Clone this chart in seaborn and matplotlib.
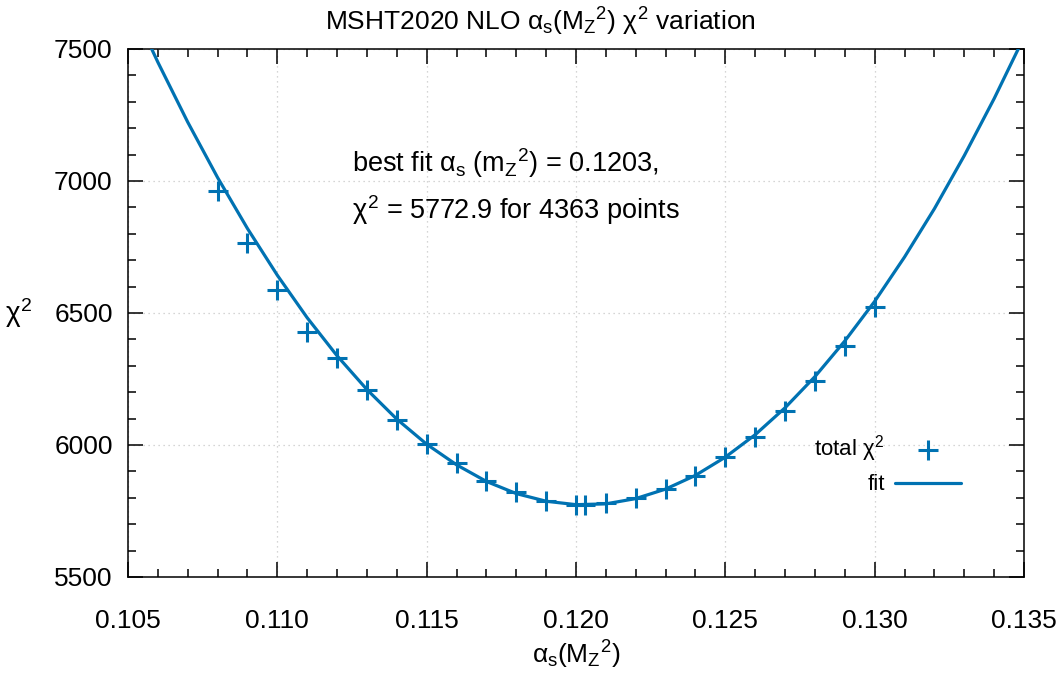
import numpy as np
import matplotlib
matplotlib.use("Agg")
import matplotlib.pyplot as plt
import seaborn as sns

# chi2 scan points
alpha_s = [0.108, 0.109, 0.110, 0.111, 0.112, 0.113, 0.114, 0.115, 0.116, 0.117,
           0.118, 0.119, 0.120, 0.1203, 0.121, 0.122, 0.123, 0.124, 0.125, 0.126,
           0.127, 0.128, 0.129, 0.130]
chi2 = [6962, 6764, 6588, 6428, 6330, 6209, 6096, 6003, 5930, 5864,
        5822, 5787, 5773, 5773, 5779, 5800, 5834, 5884, 5955, 6032,
        6127, 6241, 6374, 6522]

# fit curve, sampled every 0.001
fit_x = [0.105, 0.106, 0.107, 0.108, 0.109, 0.110, 0.111, 0.112, 0.113, 0.114,
         0.115, 0.116, 0.117, 0.118, 0.119, 0.120, 0.121, 0.122, 0.123, 0.124,
         0.125, 0.126, 0.127, 0.128, 0.129, 0.130, 0.131, 0.132, 0.133, 0.134,
         0.135]
fit_chi2 = [7692, 7450, 7223, 7013, 6820, 6643, 6482, 6338, 6210, 6098,
            6003, 5925, 5862, 5816, 5787, 5774, 5777, 5797, 5833, 5885,
            5954, 6039, 6141, 6259, 6394, 6544, 6712, 6895, 7096, 7312,
            7545]

x_major = [0.105, 0.110, 0.115, 0.120, 0.125, 0.130, 0.135]
y_major = [5500, 6000, 6500, 7000, 7500]

blue = "#0072b2"

sns.set_style("ticks")
plt.rcParams["font.family"] = ["Liberation Sans", "DejaVu Sans"]
plt.rcParams["mathtext.fontset"] = "custom"
plt.rcParams["mathtext.rm"] = "Liberation Sans"
plt.rcParams["mathtext.it"] = "Liberation Sans"
plt.rcParams["mathtext.bf"] = "Liberation Sans:bold"
plt.rcParams["text.color"] = "black"
plt.rcParams["axes.labelcolor"] = "black"

fig = plt.figure(figsize=(10.61, 6.75), dpi=100)
ax = fig.add_axes([128 / 1061, 1 - 577 / 675, 896 / 1061, 528 / 675])

sns.lineplot(x=fit_x, y=fit_chi2, ax=ax, color=blue, linewidth=2.3, label="fit", zorder=3)
sns.scatterplot(x=alpha_s, y=chi2, ax=ax, marker="+", s=190, color=blue,
                linewidth=2.2, label=r"total $\chi^2$", zorder=4)

ax.set_xlim(0.105, 0.135)
ax.set_ylim(5500, 7500)
ax.set_xticks(x_major)
ax.set_xticklabels([f"{v:.3f}" for v in x_major])
ax.set_xticks(np.arange(0.105, 0.1351, 0.001), minor=True)
ax.set_yticks(y_major)
ax.set_yticks(np.arange(5500, 7501, 100), minor=True)

ax.tick_params(which="both", direction="in", top=True, right=True, width=1.1,
               labelsize=19, colors="black")
ax.tick_params(axis="x", which="major", length=11, pad=23)
ax.tick_params(axis="y", which="major", length=11, pad=11)
ax.tick_params(which="minor", length=5.5)
for s in ax.spines.values():
    s.set_linewidth(1.1)
    s.set_color("black")

ax.grid(which="major", linestyle=(0, (1, 3)), color="#c8c8c8", linewidth=0.9)

ax.set_xlabel(r"$\alpha_s(M_Z{}^2)$", fontsize=19)
ax.xaxis.set_label_coords(0.5, (577 - 655) / 528, transform=ax.transAxes)
ax.set_ylabel(r"$\chi^2$", fontsize=20, rotation=0, va="center", ha="center")
ax.yaxis.set_label_coords((19 - 128) / 896, 0.5)
ax.xaxis.label.set_va("center")

fig.text(540 / 1061, 1 - 22 / 675, r"MSHT2020 NLO $\alpha_s(M_Z{}^2)$ $\chi^2$ variation",
         ha="center", va="center", fontsize=19)

ax.text(0.25, 0.784, r"best fit $\alpha_s$ ($m_Z{}^2$) = 0.1203,", transform=ax.transAxes,
        fontsize=19.5, ha="left", va="center")
ax.text(0.25, 0.695, r"$\chi^2$ = 5772.9 for 4363 points", transform=ax.transAxes,
        fontsize=19.5, ha="left", va="center")

handles, labels = ax.get_legend_handles_labels()
order = [1, 0]
leg = ax.legend([handles[i] for i in order], [labels[i] for i in order],
                loc="center right", bbox_to_anchor=(0.94, 0.213), markerfirst=False,
                frameon=False, fontsize=16, handlelength=3.0, handletextpad=0.45,
                labelspacing=0.45, borderaxespad=0)

fig.savefig("out.png", dpi=100)
